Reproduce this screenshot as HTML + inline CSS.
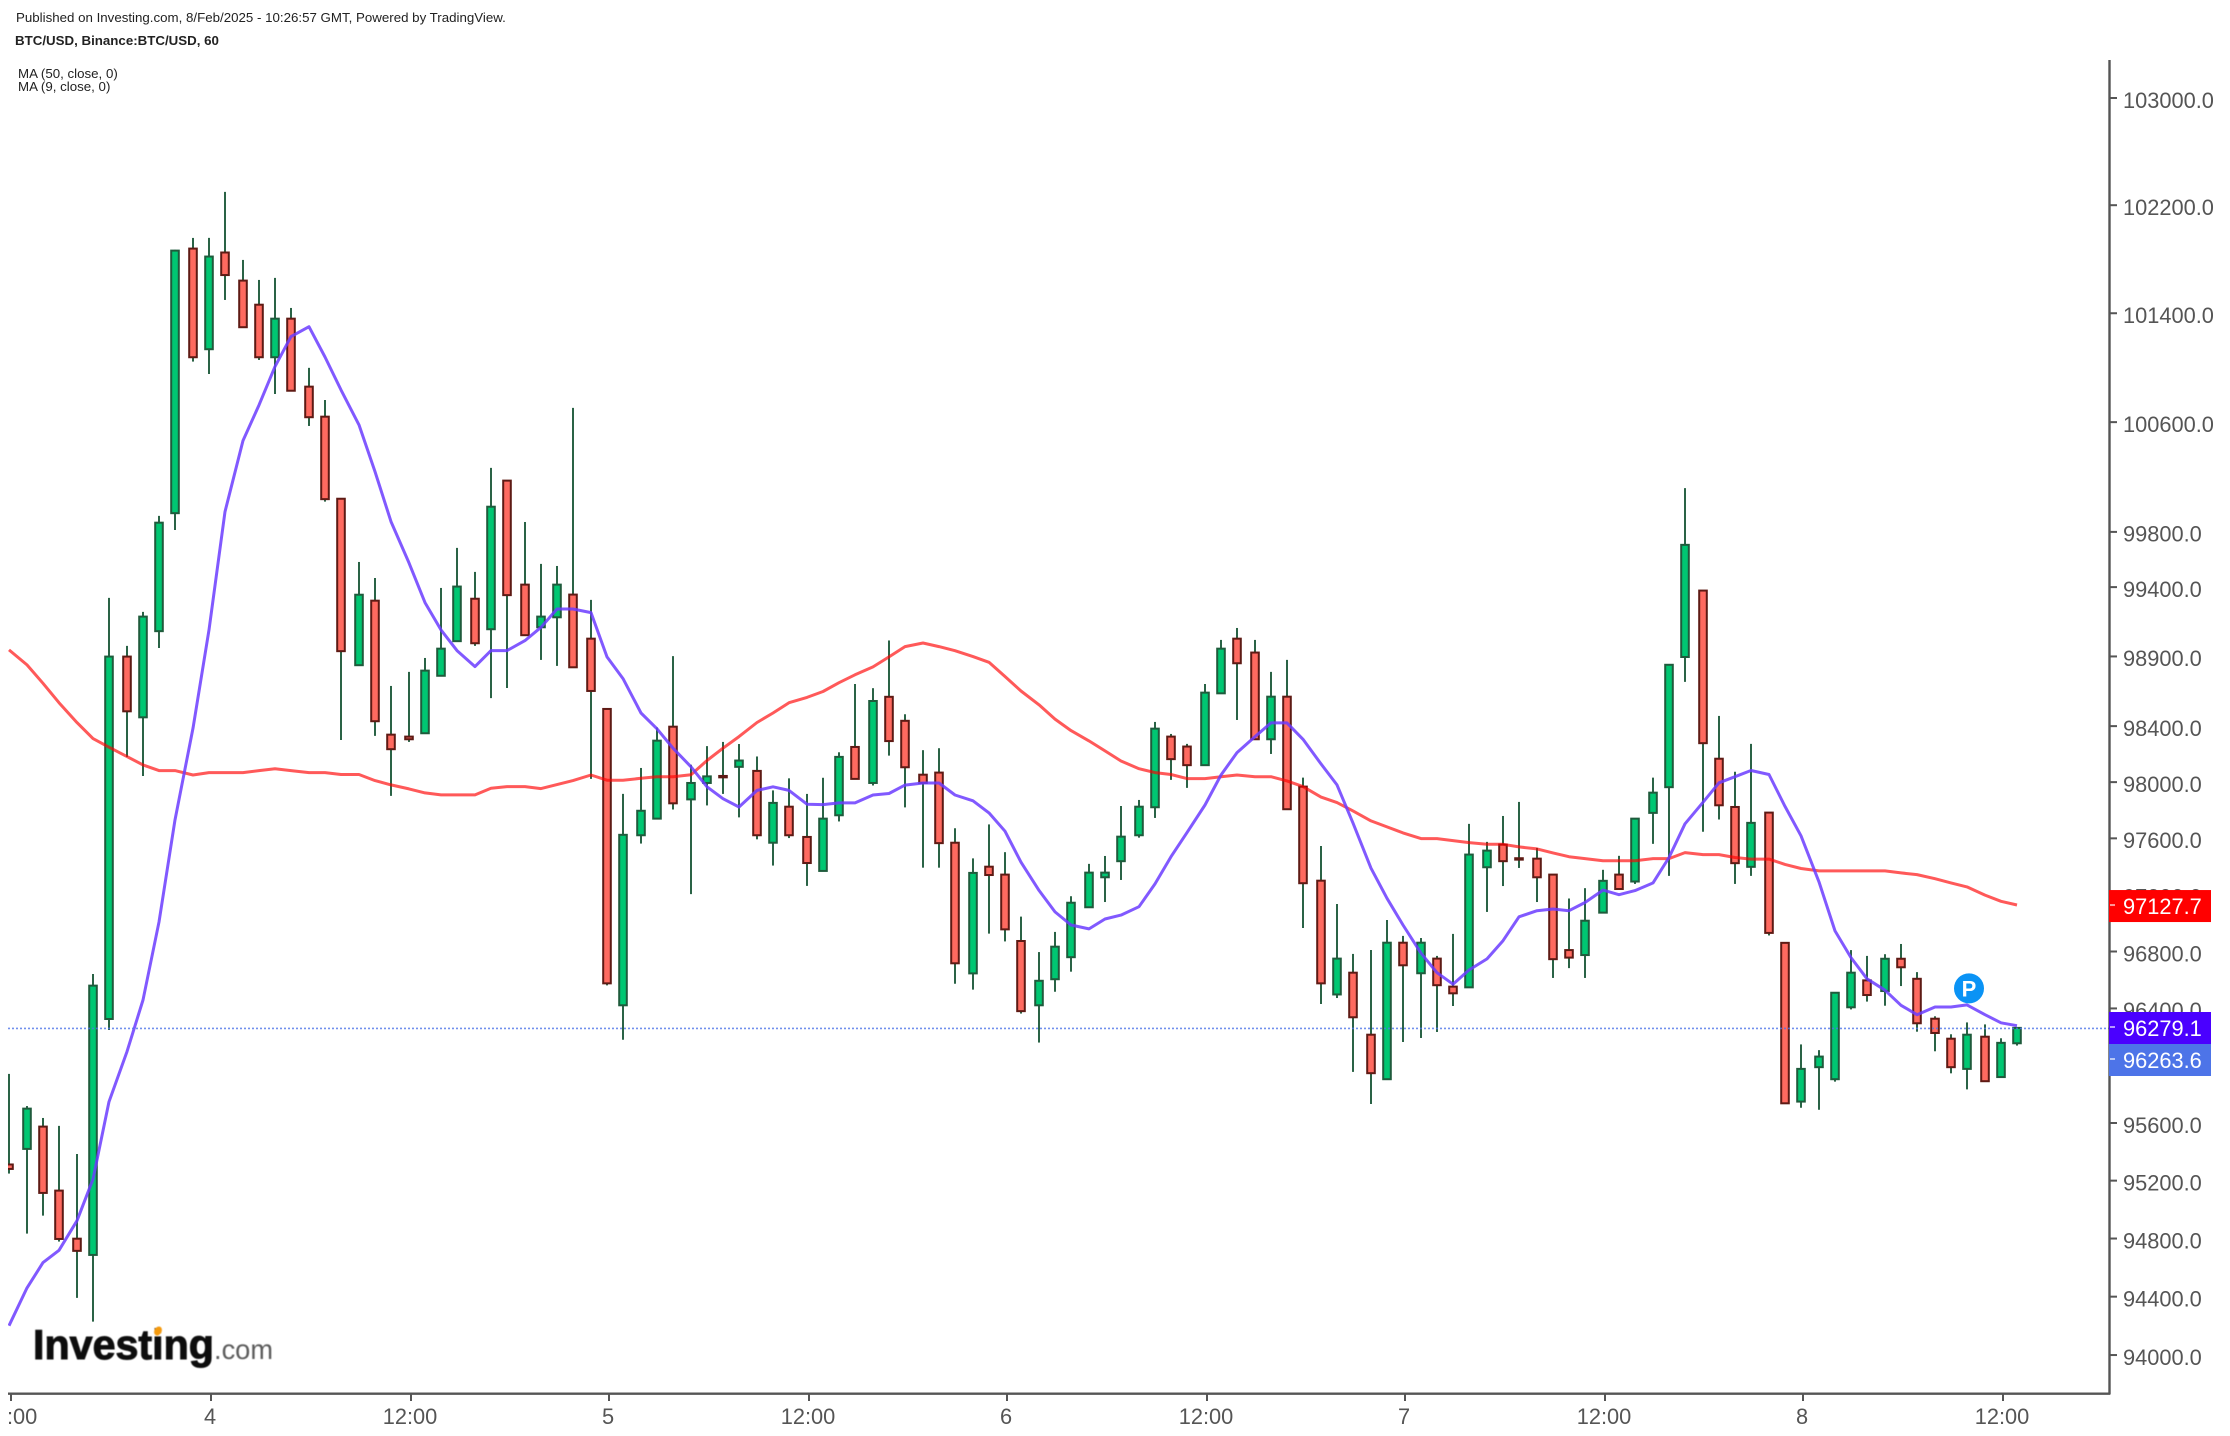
<!DOCTYPE html>
<html lang="en">
<head>
<meta charset="utf-8">
<title>BTC/USD chart</title>
<style>
html,body{margin:0;padding:0;background:#fff;width:2230px;height:1436px;overflow:hidden}
svg{display:block}
text{font-family:"Liberation Sans",Arial,sans-serif}
</style>
</head>
<body>
<svg id="chart" xmlns="http://www.w3.org/2000/svg" width="2230" height="1436" viewBox="0 0 2230 1436">
  <defs>
    <clipPath id="plot-clip"><rect x="8" y="42" width="2101" height="1351"/></clipPath>
    <clipPath id="xlabel-clip"><rect x="8" y="1396" width="2102" height="40"/></clipPath>
    <filter id="logo-blur" x="-5%" y="-5%" width="110%" height="110%"><feGaussianBlur stdDeviation="0.6"/></filter>
  </defs>
  <rect x="0" y="0" width="2230" height="1436" fill="#fff"/>
  <text x="16" y="22" font-size="13.3" fill="#222">Published on Investing.com, 8/Feb/2025 - 10:26:57 GMT, Powered by TradingView.</text>
  <text x="15" y="45" font-size="13.3" font-weight="bold" fill="#222">BTC/USD, Binance:BTC/USD, 60</text>
  <text x="18" y="78" font-size="13.3" fill="#222">MA (50, close, 0)</text>
  <text x="18" y="91" font-size="13.3" fill="#222">MA (9, close, 0)</text>
  <g id="candles" clip-path="url(#plot-clip)"></g>
  <g id="lines" clip-path="url(#plot-clip)"></g>
  <g id="logo" filter="url(#logo-blur)">
    <text x="33" y="1359" font-size="42" font-weight="bold" fill="#0c0c0c" stroke="#0c0c0c" stroke-width="1" textLength="181" lengthAdjust="spacingAndGlyphs">Investing</text>
    <text x="214" y="1359" font-size="28" fill="#5c5c5c" textLength="59" lengthAdjust="spacingAndGlyphs">.com</text>
    <ellipse cx="158" cy="1331" rx="3.6" ry="4.8" fill="#f59a0c" transform="rotate(30 158 1331)"/>
  </g>
  <g id="y-axis"></g>
  <g id="x-axis"></g>
  <g id="badges"></g>
</svg>
<script>
const opens = [
95312,95420,95575,95131,94799,94687,96326,98899,98463,99082,
99936,101878,101135,101849,101641,101463,101076,101360,100860,100640,
100041,98837,99302,98339,98325,98349,98761,99010,99316,99096,
100173,99418,99110,99182,99346,99028,98523,96422,97622,97740,
98396,97877,97994,98044,98109,98080,97569,97825,97610,97369,
97764,98251,97994,98610,98438,98053,98068,97569,96646,97399,
97343,96874,96422,96605,96760,97112,97324,97438,97622,97821,
98325,98254,98121,98635,99028,98928,98306,98611,97968,97300,
96498,96651,96216,95905,96862,96647,96750,96553,96548,97395,
97556,97459,97456,97343,96810,96775,97074,97343,97294,97781,
97964,98896,99375,98167,97823,97398,97783,96861,95749,95989,
95905,96408,96597,96522,96749,96608,96328,96188,95977,96202,95920,96156];
const highs = [
95942,95718,95635,95580,95385,96642,99322,98976,99221,99916,
101868,101957,101957,102299,101794,101646,101661,101439,100998,100762,
100041,99582,99466,98688,98789,98889,99394,99684,99510,100266,
100173,99872,99568,99553,100704,99308,98523,97916,98101,98391,
98902,98124,98257,98287,98272,98183,97941,98027,97916,98031,
98213,98702,98672,99015,98485,98228,98242,97672,97458,97699,
97502,97046,96796,96938,97190,97419,97475,97830,97873,98430,
98344,98273,98702,99019,99105,99019,98789,98875,98032,97546,
97135,96783,96811,97022,96910,96895,96769,96924,97703,97575,
97759,97859,97532,97343,97174,97247,97377,97476,97740,98032,
98840,100118,99375,98473,98074,98273,97783,96861,96148,96108,
96510,96810,96769,96781,96853,96655,96345,96219,96302,96288,96191,96264];
const lows = [
95249,94834,94958,94779,94392,94229,96249,98180,98044,98961,
99814,101044,100953,101498,101297,101056,100806,100830,100572,100020,
98301,98837,98330,97902,98287,98349,98761,99010,98976,98601,
98673,99053,98875,98832,98822,98023,96562,96181,97563,97740,
97805,97205,97834,97916,97749,97593,97407,97602,97263,97369,
97720,98023,97976,98189,97820,97392,97392,96573,96532,96926,
96871,96364,96161,96517,96658,97112,97149,97305,97605,97745,
98016,97959,98121,98635,98444,98306,98201,97807,96966,96431,
96473,95956,95732,95905,96165,96193,96235,96417,96548,97079,
97262,97390,97149,96614,96683,96614,97074,97241,97277,97561,
97334,98717,97647,97734,97277,97334,96913,95737,95706,95692,
95888,96393,96448,96419,96557,96237,96100,95946,95834,95891,95920,96140];
const closes = [
95281,95700,95115,94797,94715,96560,98899,98506,99187,99867,
101863,101076,101819,101682,101297,101076,101360,100830,100636,100038,
98938,99345,98435,98235,98306,98798,98956,99404,98995,99983,
99342,99053,99187,99418,98822,98652,96576,97625,97796,98296,
97849,97994,98041,98034,98154,97622,97852,97622,97425,97740,
98180,98023,98580,98293,98106,97994,97566,96717,97355,97340,
96956,96381,96594,96834,97144,97357,97357,97612,97825,98382,
98164,98121,98640,98956,98851,98306,98611,97807,97282,96576,
96750,96338,95947,96862,96703,96862,96563,96506,97485,97513,
97438,97449,97324,96746,96757,97017,97299,97241,97740,97925,
98840,99706,98278,97835,97424,97710,96931,95737,95977,96063,
96510,96651,96494,96749,96689,96296,96228,95989,96216,95891,96159,96263.6];
const ma9 = [
94201,94460,94634,94719,94923,95210,95748,96098,96459,97008,
97731,98385,99091,99947,100465,100725,101007,101228,101301,101078,
100836,100580,100239,99875,99575,99288,99091,98942,98827,98942,
98942,99014,99110,99242,99242,99216,98897,98741,98494,98381,
98242,98109,97967,97882,97823,97941,97967,97941,97843,97840,
97852,97852,97908,97919,97979,97994,97994,97908,97867,97781,
97651,97431,97231,97079,96987,96959,97029,97057,97116,97277,
97470,97641,97837,98051,98211,98325,98423,98423,98306,98130,
97980,97708,97388,97175,96987,96788,96651,96570,96670,96748,
96876,97045,97088,97100,97088,97146,97233,97201,97230,97284,
97464,97703,97856,97995,98039,98083,98054,97827,97618,97291,
96945,96757,96608,96528,96422,96356,96410,96410,96425,96356,96299,96279.1];
const ma50 = [
98947,98839,98707,98568,98425,98311,98249,98182,98123,98082,
98082,98051,98068,98068,98068,98082,98096,98082,98068,98068,
98054,98054,98011,97980,97952,97923,97909,97909,97909,97957,
97968,97968,97954,97982,98011,98051,98014,98014,98027,98038,
98038,98053,98154,98242,98325,98426,98494,98568,98606,98648,
98711,98768,98825,98897,98971,98997,98971,98941,98899,98858,
98756,98652,98553,98450,98368,98294,98223,98151,98096,98068,
98054,98025,98025,98039,98051,98039,98039,98009,97968,97893,
97854,97795,97724,97681,97639,97598,97598,97584,97570,97558,
97558,97539,97525,97497,97470,97456,97441,97441,97441,97456,
97456,97499,97485,97485,97464,97453,97453,97415,97386,97369,
97369,97369,97369,97369,97355,97343,97314,97284,97256,97198,97154,97127.7];
const priceTicks = [103000,102200,101400,100600,99800,99400,98900,98400,98000,97600,97200,96800,96400,96000,95600,95200,94800,94400,94000];
const timeTickBars = [0,12,24,36,48,60,72,84,96,108,120];
const timeTickLabels = ["12:00","4","12:00","5","12:00","6","12:00","7","12:00","8","12:00"];
const lastPrice = closes[closes.length-1];
const ma9Last = ma9[ma9.length-1];
const ma50Last = ma50[ma50.length-1];
const pivotBar = 118;

const SVGNS = "http://www.w3.org/2000/svg";
function yScale(p){ return 98 + 13748*Math.log(103000/p); }
function xScale(i){ return 2*Math.round((8.9+16.59*i)/2)+1; }
function make(tag, attrs, parent){
  const el = document.createElementNS(SVGNS, tag);
  for(const k in attrs){ el.setAttribute(k, attrs[k]); }
  parent.appendChild(el);
  return el;
}
const candleGroup = document.getElementById("candles");
const lineGroup = document.getElementById("lines");
const yAxis = document.getElementById("y-axis");
const xAxis = document.getElementById("x-axis");
const badges = document.getElementById("badges");

/* candles */
closes.forEach(function(c,i){
  const o = opens[i], up = c >= o, x = xScale(i);
  const g = make("g", {}, candleGroup);
  
  
  const wick = make("line", {x1:x,x2:x,y1:yScale(highs[i]),y2:yScale(lows[i]),stroke:"#1f5b3c","stroke-width":1.9}, g);
  
  
  const top = yScale(Math.max(o,c)), bot = yScale(Math.min(o,c));
  const body = make("rect", {x:x-3.8,y:top,width:7.6,height:Math.max(bot-top,0.8),
    fill:up?"#00c772":"#ff6a60",stroke:up?"#1f5b3c":"#5e1a14","stroke-width":2}, g);
  
  
});

/* moving averages */
function linePath(vals){
  return vals.map(function(v,i){ return (i?"L":"M")+xScale(i)+" "+yScale(v).toFixed(1); }).join(" ");
}
const ma50Line = make("path", {d:linePath(ma50),fill:"none",stroke:"#ff0000","stroke-opacity":0.65,"stroke-width":3,"stroke-linejoin":"round"}, lineGroup);


const ma9Line = make("path", {d:linePath(ma9),fill:"none",stroke:"#6b3cff","stroke-opacity":0.85,"stroke-width":3,"stroke-linejoin":"round"}, lineGroup);


const lastLine = make("line", {x1:8,x2:2109,y1:yScale(lastPrice)+0.5,y2:yScale(lastPrice)+0.5,stroke:"#4d74e8","stroke-opacity":0.8,"stroke-width":1.6,"stroke-dasharray":"2 2"}, lineGroup);



/* pivot marker */
const markerX = xScale(pivotBar)+2;
const markerY = yScale(ma9[pivotBar])-16.5;
const marker = make("circle", {cx:markerX,cy:markerY,r:15,fill:"#0a93f5"}, lineGroup);


const markerText = make("text", {x:markerX,y:markerY+8,"font-size":22,"font-weight":"bold",fill:"#fff","text-anchor":"middle"}, lineGroup);


markerText.textContent = "P";

/* price axis */
const yLine = make("line", {x1:2109.5,x2:2109.5,y1:60,y2:1394.5,stroke:"#555","stroke-width":2.4}, yAxis);


priceTicks.forEach(function(p){
  const y = yScale(p);
  const t = make("line", {x1:2110,x2:2117,y1:y,y2:y,stroke:"#555","stroke-width":2}, yAxis);
  
  
  const l = make("text", {x:2123,y:y+9.8,"font-size":21.8,fill:"#555"}, yAxis);
  
  
  l.textContent = p.toFixed(1);
});

/* time axis */
const xLine = make("line", {x1:8,x2:2110,y1:1393.7,y2:1393.7,stroke:"#555","stroke-width":2.4}, xAxis);


const xLabelGroup = make("g", {"clip-path":"url(#xlabel-clip)"}, xAxis);


timeTickBars.forEach(function(b,k){
  const x = xScale(b);
  const t = make("line", {x1:x+2,x2:x+2,y1:1394,y2:1401,stroke:"#555","stroke-width":2}, xAxis);
  
  
  const l = make("text", {x:x+1,y:1424,"font-size":21.8,fill:"#555","text-anchor":"middle"}, xLabelGroup);
  
  
  l.textContent = timeTickLabels[k];
});

/* price badges */
function badge(value, top, tickY, fill, name){
  const r = make("rect", {x:2109,y:top,width:102,height:32,fill:fill}, badges);
  
  
  const tk = make("line", {x1:2110,x2:2115,y1:tickY,y2:tickY,stroke:"#fff","stroke-opacity":0.6,"stroke-width":2}, badges);
  
  
  const t = make("text", {x:2123,y:top+24,"font-size":21.8,fill:"#fff"}, badges);
  
  
  t.textContent = value.toFixed(1);
}
badge(ma50Last, yScale(ma50Last)-15, yScale(ma50Last), "#ff0000", 'ma50-price-badge');
badge(ma9Last, 1012, 1027, "#4a00ff", 'ma9-price-badge');
badge(lastPrice, 1044, 1059, "#4d74e8", 'last-price-badge');
</script>
</body>
</html>
